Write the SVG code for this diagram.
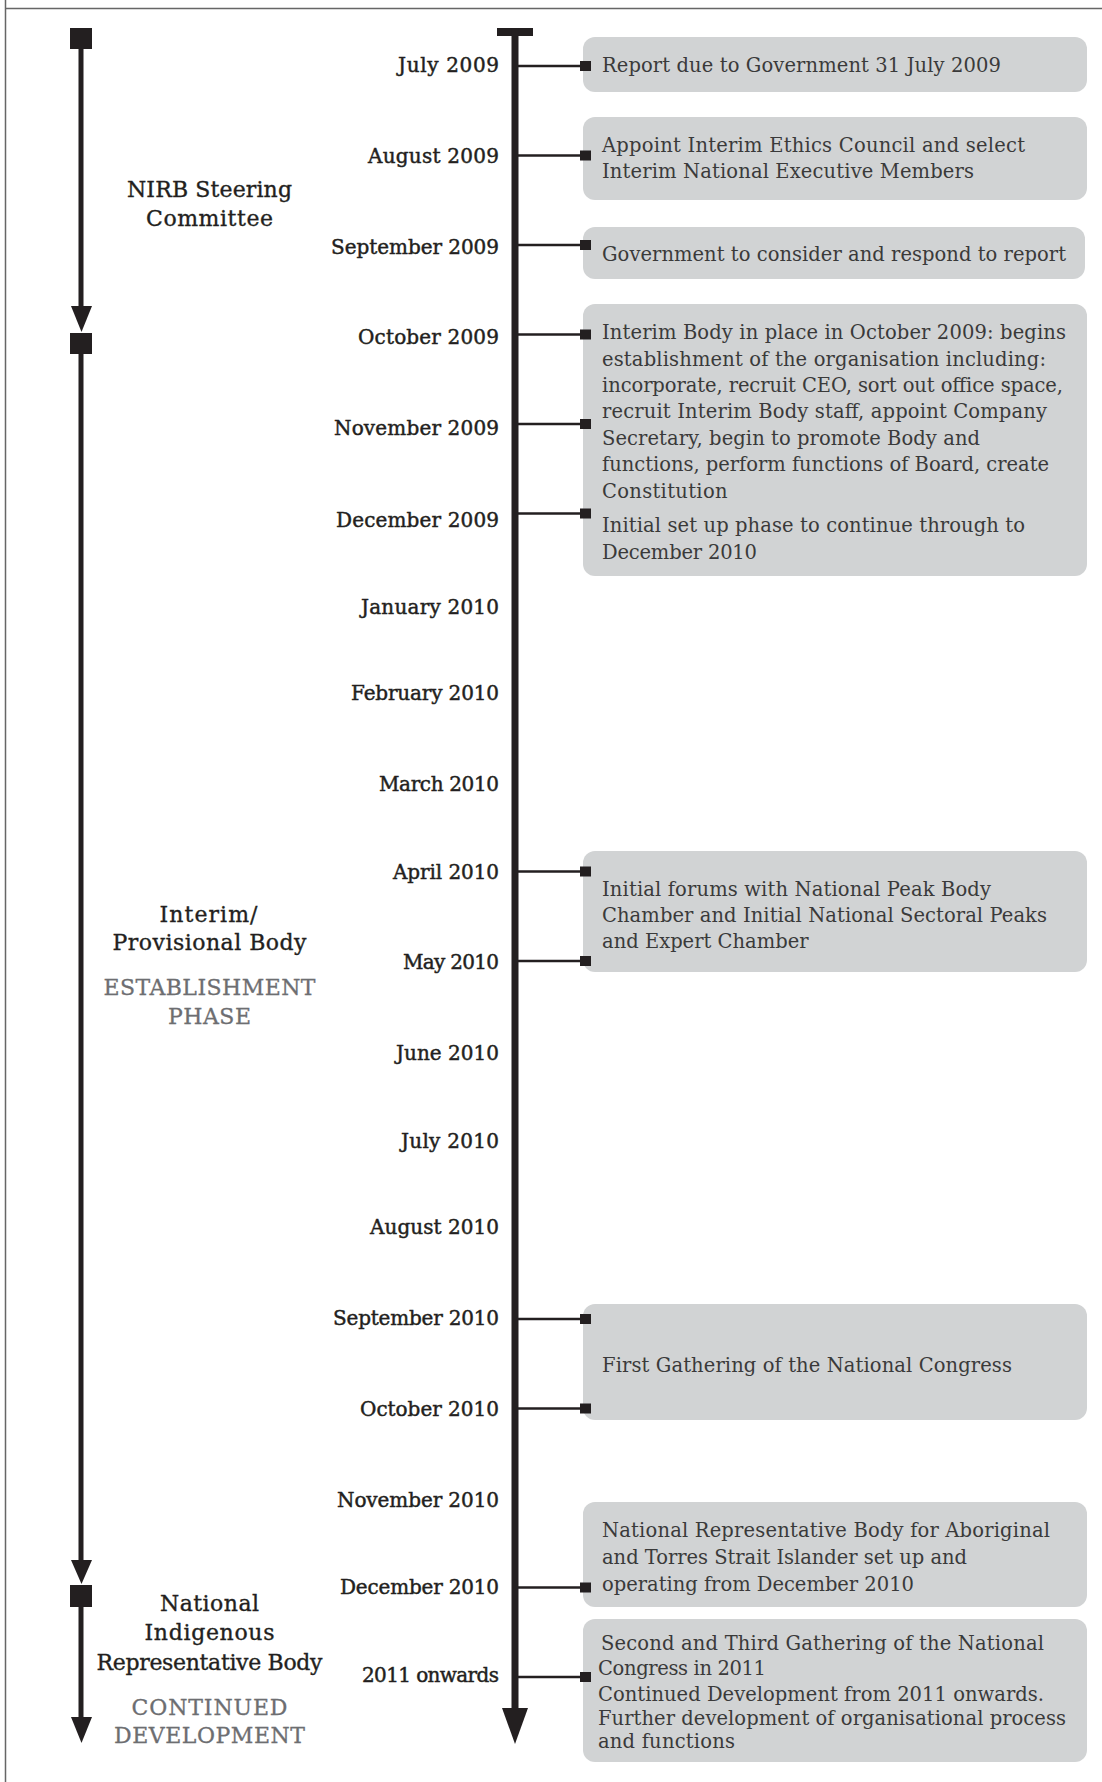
<svg xmlns="http://www.w3.org/2000/svg" xmlns:xlink="http://www.w3.org/1999/xlink" width="1102" height="1782" viewBox="0 0 1102 1782">
<style>
.bg{fill:#ffffff}
.frame{stroke:#666;stroke-width:1.5;fill:none}
.spine{stroke:#231f20;stroke-width:7;fill:none}
.phase{stroke:#231f20;stroke-width:5;fill:none}
.conn{stroke:#231f20;stroke-width:2.5;fill:none}
.ink{fill:#231f20}
.box{fill:#d1d3d4}
.month{font-family:"DejaVu Serif","Liberation Serif",serif;font-size:20px;fill:#231f20;stroke:#231f20;stroke-width:0.45px;text-anchor:end}
.stage{font-family:"DejaVu Serif","Liberation Serif",serif;font-size:22px;fill:#231f20;stroke:#231f20;stroke-width:0.35px;text-anchor:middle}
.stagegrey{font-family:"DejaVu Serif","Liberation Serif",serif;font-size:22px;fill:#6d6e71;stroke:#6d6e71;stroke-width:0.3px;text-anchor:middle}
.txt{font-family:"DejaVu Serif","Liberation Serif",serif;font-size:19.5px;fill:#3a3a3a}
</style>
<defs>
<rect id="sq" x="0" y="0" width="11" height="10" class="ink"/>
</defs>
<rect class="bg" x="0" y="0" width="1102" height="1782"/>
<g id="frame">
<line class="frame" x1="5.5" y1="0" x2="5.5" y2="1782"/>
<line class="frame" x1="5" y1="8.5" x2="1102" y2="8.5"/>
</g>

<g id="phase-arrows">
<rect class="ink" x="70" y="28" width="22" height="21"/>
<line class="phase" x1="81" y1="49" x2="81" y2="308"/>
<polygon class="ink" points="71,306 92,306 81.5,332"/>
<rect class="ink" x="70" y="333" width="22" height="21"/>
<line class="phase" x1="81" y1="354" x2="81" y2="1562"/>
<polygon class="ink" points="71,1560 92,1560 81.5,1584"/>
<rect class="ink" x="70" y="1585" width="22" height="22"/>
<line class="phase" x1="81" y1="1607" x2="81" y2="1719"/>
<polygon class="ink" points="71,1717 92,1717 81.5,1743"/>
</g>

<g id="stage-nirb">
<text class="stage" x="209.5" y="196.5" textLength="165">NIRB Steering</text>
<text class="stage" x="209.5" y="226" textLength="127">Committee</text>
</g>
<g id="stage-interim">
<text class="stage" x="208.5" y="922" textLength="98">Interim/</text>
<text class="stage" x="209.5" y="950" textLength="194">Provisional Body</text>
<text class="stagegrey" x="209.5" y="995" textLength="212">ESTABLISHMENT</text>
<text class="stagegrey" x="209.5" y="1024" textLength="83">PHASE</text>
</g>
<g id="stage-national">
<text class="stage" x="209.5" y="1611" textLength="99">National</text>
<text class="stage" x="209.5" y="1640" textLength="130">Indigenous</text>
<text class="stage" x="209.5" y="1670" textLength="226">Representative Body</text>
<text class="stagegrey" x="209.5" y="1715" textLength="156">CONTINUED</text>
<text class="stagegrey" x="209.5" y="1743" textLength="191">DEVELOPMENT</text>
</g>

<g id="timeline">
<rect class="ink" x="497" y="28" width="36" height="8"/>
<line class="spine" x1="515" y1="28" x2="515" y2="1710"/>
<polygon class="ink" points="502,1708 528,1708 515,1744"/>
</g>

<g id="months">
<text class="month" x="499" y="72" textLength="101">July 2009</text>
<text class="month" x="499" y="163" textLength="131">August 2009</text>
<text class="month" x="499" y="254" textLength="168">September 2009</text>
<text class="month" x="499" y="344" textLength="141">October 2009</text>
<text class="month" x="499" y="435" textLength="165">November 2009</text>
<text class="month" x="499" y="526.5" textLength="163">December 2009</text>
<text class="month" x="499" y="614" textLength="138">January 2010</text>
<text class="month" x="499" y="700" textLength="148">February 2010</text>
<text class="month" x="499" y="790.5" textLength="120">March 2010</text>
<text class="month" x="499" y="878.5" textLength="106">April 2010</text>
<text class="month" x="499" y="969" textLength="96">May 2010</text>
<text class="month" x="499" y="1060" textLength="103">June 2010</text>
<text class="month" x="499" y="1147.5" textLength="98">July 2010</text>
<text class="month" x="499" y="1234" textLength="129">August 2010</text>
<text class="month" x="499" y="1325" textLength="166">September 2010</text>
<text class="month" x="499" y="1415.5" textLength="139">October 2010</text>
<text class="month" x="499" y="1506.5" textLength="162">November 2010</text>
<text class="month" x="499" y="1594" textLength="159">December 2010</text>
<text class="month" x="499" y="1682" textLength="137">2011 onwards</text>
</g>

<g id="box-report">
<rect class="box" x="583" y="37" width="504" height="55" rx="12"/>
<text class="txt" x="602" y="72" textLength="399">Report due to Government 31 July 2009</text>
</g>
<g id="box-appoint">
<rect class="box" x="583" y="117" width="504" height="83" rx="12"/>
<text class="txt" x="602" y="152" textLength="423">Appoint Interim Ethics Council and select</text>
<text class="txt" x="602" y="177.5" textLength="372">Interim National Executive Members</text>
</g>
<g id="box-government">
<rect class="box" x="583" y="227" width="502" height="52" rx="12"/>
<text class="txt" x="602" y="261" textLength="464">Government to consider and respond to report</text>
</g>
<g id="box-interim">
<rect class="box" x="583" y="304" width="504" height="272" rx="12"/>
<text class="txt" x="602" y="339" textLength="464">Interim Body in place in October 2009: begins</text>
<text class="txt" x="602" y="365.5" textLength="444">establishment of the organisation including:</text>
<text class="txt" x="602" y="392" textLength="461">incorporate, recruit CEO, sort out office space,</text>
<text class="txt" x="602" y="418" textLength="445">recruit Interim Body staff, appoint Company</text>
<text class="txt" x="602" y="444.5" textLength="378">Secretary, begin to promote Body and</text>
<text class="txt" x="602" y="471" textLength="447">functions, perform functions of Board, create</text>
<text class="txt" x="602" y="497.5" textLength="125.5">Constitution</text>
<text class="txt" x="602" y="532" textLength="423">Initial set up phase to continue through to</text>
<text class="txt" x="602" y="558.5" textLength="155">December 2010</text>
</g>
<g id="box-forums">
<rect class="box" x="583" y="851" width="504" height="121" rx="12"/>
<text class="txt" x="602" y="896" textLength="389">Initial forums with National Peak Body</text>
<text class="txt" x="602" y="922" textLength="445">Chamber and Initial National Sectoral Peaks</text>
<text class="txt" x="602" y="948" textLength="206.5">and Expert Chamber</text>
</g>
<g id="box-first-gathering">
<rect class="box" x="583" y="1304" width="504" height="116" rx="12"/>
<text class="txt" x="602" y="1372" textLength="410">First Gathering of the National Congress</text>
</g>
<g id="box-national-body">
<rect class="box" x="583" y="1502" width="504" height="105" rx="12"/>
<text class="txt" x="602" y="1537" textLength="448">National Representative Body for Aboriginal</text>
<text class="txt" x="602" y="1564" textLength="365">and Torres Strait Islander set up and</text>
<text class="txt" x="602" y="1591" textLength="312">operating from December 2010</text>
</g>
<g id="box-continued">
<rect class="box" x="583" y="1619" width="504" height="143" rx="12"/>
<text class="txt" x="601" y="1650" textLength="443">Second and Third Gathering of the National</text>
<text class="txt" x="598" y="1674.5" textLength="168">Congress in 2011</text>
<text class="txt" x="598" y="1700.5" textLength="446">Continued Development from 2011 onwards.</text>
<text class="txt" x="598" y="1725" textLength="468">Further development of organisational process</text>
<text class="txt" x="598" y="1748" textLength="137">and functions</text>
</g>

<g id="connectors">
<line class="conn" x1="518" y1="66" x2="582" y2="66"/><use xlink:href="#sq" x="580" y="61"/>
<line class="conn" x1="518" y1="155.5" x2="582" y2="155.5"/><use xlink:href="#sq" x="580" y="150.5"/>
<line class="conn" x1="518" y1="245" x2="582" y2="245"/><use xlink:href="#sq" x="580" y="240"/>
<line class="conn" x1="518" y1="334.5" x2="582" y2="334.5"/><use xlink:href="#sq" x="580" y="329.5"/>
<line class="conn" x1="518" y1="424" x2="582" y2="424"/><use xlink:href="#sq" x="580" y="419"/>
<line class="conn" x1="518" y1="513.5" x2="582" y2="513.5"/><use xlink:href="#sq" x="580" y="508.5"/>
<line class="conn" x1="518" y1="871.5" x2="582" y2="871.5"/><use xlink:href="#sq" x="580" y="866.5"/>
<line class="conn" x1="518" y1="961" x2="582" y2="961"/><use xlink:href="#sq" x="580" y="956"/>
<line class="conn" x1="518" y1="1319" x2="582" y2="1319"/><use xlink:href="#sq" x="580" y="1314"/>
<line class="conn" x1="518" y1="1408.5" x2="582" y2="1408.5"/><use xlink:href="#sq" x="580" y="1403.5"/>
<line class="conn" x1="518" y1="1587.5" x2="582" y2="1587.5"/><use xlink:href="#sq" x="580" y="1582.5"/>
<line class="conn" x1="518" y1="1677" x2="582" y2="1677"/><use xlink:href="#sq" x="580" y="1672"/>
</g>
</svg>
